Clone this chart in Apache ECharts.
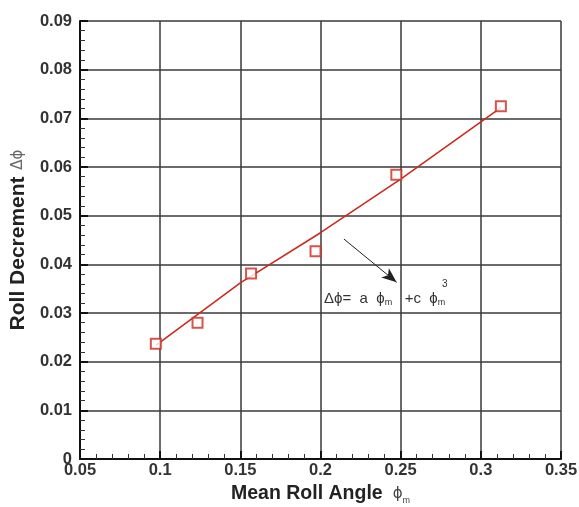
<!DOCTYPE html>
<html>
<head>
<meta charset="utf-8">
<script src="https://cdn.jsdelivr.net/npm/echarts@6/dist/echarts.min.js"></script>
<style>
  html, body { margin: 0; padding: 0; background: #fff; }
  #chart { width: 579px; height: 507px; }
</style>
</head>
<body>
<div id="chart"></div>
<script>
  // measured roll decrement vs mean roll angle
  var angleData = [0.0973, 0.1233, 0.1567, 0.1969, 0.2473, 0.3125]
  var decrementData = [0.0237, 0.0280, 0.0381, 0.0427, 0.0584, 0.0725]

  // fitted curve
  var fitAngle = [0.0975, 0.15, 0.2, 0.25, 0.3125]
  var fitDecrement = [0.0234, 0.0362, 0.0465, 0.0575, 0.0722]

  // annotation arrow and formula anchor (data space)
  var arrowFrom = [0.2146, 0.0452]
  var arrowTo = [0.2475, 0.0363]
  var formulaAt = [0.2019, 0.0330]
  var cubeAt = [0.2775, 0.0360]

  var red = '#cc2a1e'
  var gridColor = '#3a3a3a'
  var font = 'Liberation Sans, DejaVu Sans'

  var chart = echarts.init(document.getElementById('chart'))

  var pairs = function (xs, ys) {
    return xs.map(function (x, i) { return [x, ys[i]] })
  }

  var tickLabel = function (margin) {
    return {
      margin: margin,
      fontFamily: font,
      fontWeight: 'bold',
      fontSize: 16.5,
      color: '#333',
      formatter: function (v) { return String(+v.toFixed(2)) }
    }
  }

  chart.setOption({
    animation: false,
    backgroundColor: '#fff',
    grid: { left: 80, top: 21, right: 18, bottom: 48, outerBoundsMode: 'none' },
    xAxis: {
      type: 'value',
      min: 0.05,
      max: 0.35,
      interval: 0.05,
      name: '{b|Mean Roll Angle}   {g|ϕ}{s|m}',
      nameLocation: 'middle',
      nameGap: 22,
      nameTextStyle: {
        rich: {
          b: { fontFamily: font, fontWeight: 'bold', fontSize: 19.5, color: '#222', lineHeight: 22 },
          g: { fontFamily: 'DejaVu Sans', fontSize: 15, color: '#444', lineHeight: 22 },
          s: { fontFamily: font, fontSize: 9, color: '#444', verticalAlign: 'bottom', lineHeight: 22 }
        }
      },
      axisLine: { lineStyle: { color: '#111', width: 2 } },
      axisTick: { inside: true, length: 8, lineStyle: { color: '#111', width: 2 } },
      minorTick: { show: true, splitNumber: 5, length: 5, lineStyle: { color: '#333', width: 1 } },
      splitLine: { show: true, lineStyle: { color: gridColor, width: 1.5 } },
      axisLabel: tickLabel(3)
    },
    yAxis: {
      type: 'value',
      min: 0,
      max: 0.09,
      interval: 0.01,
      name: '{b|Roll Decrement}  {g|Δϕ}',
      nameLocation: 'middle',
      nameGap: 47,
      nameTextStyle: {
        rich: {
          b: { fontFamily: font, fontWeight: 'bold', fontSize: 21, color: '#222' },
          g: { fontFamily: 'DejaVu Sans', fontSize: 15, color: '#666' }
        }
      },
      axisLine: { lineStyle: { color: '#111', width: 2 } },
      axisTick: { inside: true, length: 8, lineStyle: { color: '#111', width: 2 } },
      minorTick: { show: true, splitNumber: 5, length: 5, lineStyle: { color: '#333', width: 1 } },
      splitLine: { show: true, lineStyle: { color: gridColor, width: 1.5 } },
      axisLabel: tickLabel(8)
    },
    series: [
      {
        type: 'line',
        data: pairs(fitAngle, fitDecrement),
        showSymbol: false,
        lineStyle: { color: red, width: 1.6 },
        z: 3,
        markLine: {
          silent: true,
          symbol: ['none', 'arrow'],
          symbolSize: [9, 15],
          label: { show: false },
          lineStyle: { color: '#222', width: 1, type: 'solid' },
          data: [[{ coord: arrowFrom }, { coord: arrowTo }]]
        },
        markPoint: {
          silent: true,
          symbol: 'circle',
          symbolSize: 1,
          itemStyle: { color: 'rgba(0,0,0,0)' },
          data: [
            {
              coord: formulaAt,
              label: {
                show: true,
                position: 'right',
                distance: 0,
                formatter: '{a|Δϕ=  a  ϕ}{s|m}{a|   +c  ϕ}{s|m}',
                rich: {
                  a: { fontFamily: font, fontSize: 15, color: '#333', lineHeight: 18 },
                  s: { fontFamily: font, fontSize: 9, color: '#333', verticalAlign: 'bottom', lineHeight: 18 }
                }
              }
            },
            {
              coord: cubeAt,
              label: {
                show: true,
                position: 'inside',
                formatter: '3',
                fontFamily: font,
                fontSize: 10,
                color: '#333'
              }
            }
          ]
        }
      },
      {
        type: 'scatter',
        data: pairs(angleData, decrementData),
        symbol: 'rect',
        symbolSize: 10,
        itemStyle: { color: '#fff', borderColor: red, borderWidth: 2 },
        z: 4
      }
    ]
  })
</script>
</body>
</html>
